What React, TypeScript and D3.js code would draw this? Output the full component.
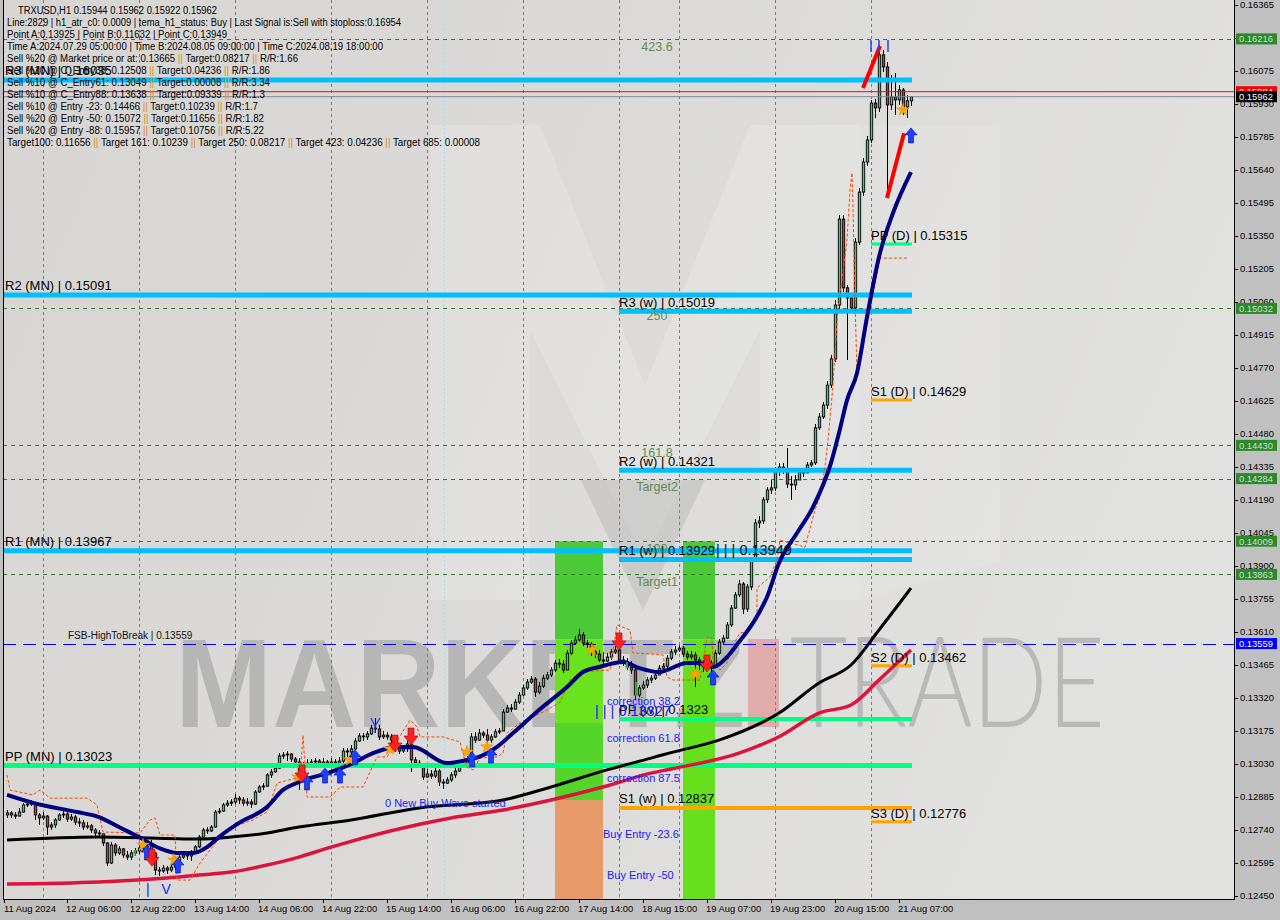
import React from "react";
import * as d3 from "d3";

const FONT = "'Liberation Sans', Arial, Helvetica, sans-serif";

// ---------------- DATA ----------------
const priceTickLabels = ["0.12450","0.12595","0.12740","0.12885","0.13030","0.13175","0.13320","0.13465","0.13610","0.13755","0.13900","0.14045","0.14190","0.14335","0.14480","0.14625","0.14770","0.14915","0.15060","0.15205","0.15350","0.15495","0.15640","0.15785","0.15930","0.16075","0.16220","0.16365"];

const firstTimeLabel = "11 Aug 2024";
const timeTickBars = [15,31,47,63,79,95,111,127,143,159,175,191,207,223];
const timeTickLabels = ["12 Aug 06:00","12 Aug 22:00","13 Aug 14:00","14 Aug 06:00","14 Aug 22:00","15 Aug 14:00","16 Aug 06:00","16 Aug 22:00","17 Aug 14:00","18 Aug 15:00","19 Aug 07:00","19 Aug 23:00","20 Aug 15:00","21 Aug 07:00"];
const dayGridBars = [9,33,57,81,105,129,153,168,192,216];
const cyanMarkerBar = 109.25;

// prices in units of 0.00001
const firstOpen = 12806;
const closes = [
12815,12806,12801,12819,12850,12854,12858,12806,12793,12801,
12753,12762,12784,12806,12810,12788,12797,12775,12771,12753,
12758,12740,12727,12723,12683,12595,12674,12639,12657,12630,
12621,12639,12648,12661,12666,12670,12639,12564,12560,12573,
12564,12577,12599,12621,12630,12626,12644,12666,12709,12740,
12736,12753,12819,12823,12850,12858,12863,12880,12872,12858,
12863,12854,12907,12929,12933,12982,12995,13012,13065,13070,
13074,13052,13039,12995,13021,13034,13039,13043,13030,13039,
13026,13039,13034,13043,13087,13083,13096,13131,13153,13149,
13162,13188,13184,13149,13157,13149,13135,13100,13087,13096,
13118,13048,13034,13030,12973,12986,12977,12999,12951,12946,
12960,12982,12999,13021,13034,13052,13149,13135,13166,13157,
13135,13149,13171,13175,13258,13276,13271,13302,13333,13364,
13390,13403,13346,13372,13407,13421,13443,13473,13469,13443,
13517,13561,13575,13597,13561,13557,13522,13513,13487,13482,
13500,13522,13531,13487,13478,13456,13443,13333,13364,13377,
13399,13407,13421,13451,13460,13495,13522,13531,13539,13513,
13500,13509,13487,13465,13456,13473,13460,13517,13566,13583,
13641,13715,13773,13821,13711,13808,13927,14089,14098,14191,
14234,14243,14318,14335,14322,14260,14256,14278,14313,14309,
14344,14353,14507,14555,14607,14695,14810,15047,15424,15122,
15078,15034,15323,15543,15675,15772,15934,15913,16146,16093,
15926,15961,15948,15992,15917,15944,15962];
const highs = [
12828,12823,12819,12837,12858,12867,12872,12863,12815,12819,
12806,12775,12793,12815,12823,12819,12810,12806,12793,12784,
12775,12766,12749,12740,12718,12687,12687,12683,12670,12661,
12648,12652,12661,12674,12683,12687,12696,12644,12577,12586,
12582,12591,12608,12630,12644,12644,12652,12674,12718,12749,
12753,12762,12828,12837,12858,12872,12876,12898,12889,12885,
12880,12876,12916,12938,12946,12990,13008,13026,13078,13083,
13087,13078,13061,13056,13039,13052,13052,13056,13052,13056,
13048,13056,13052,13061,13100,13100,13113,13144,13166,13166,
13175,13201,13232,13201,13175,13171,13162,13135,13113,13113,
13131,13127,13061,13048,13021,13008,13004,13012,13008,12964,
12973,12995,13012,13034,13048,13065,13166,13171,13184,13175,
13184,13162,13184,13188,13271,13289,13293,13315,13346,13377,
13403,13416,13412,13390,13421,13434,13456,13487,13491,13487,
13531,13575,13592,13623,13610,13575,13566,13539,13531,13522,
13517,13535,13548,13539,13504,13495,13482,13451,13377,13394,
13412,13421,13434,13465,13473,13509,13535,13548,13553,13548,
13526,13526,13522,13500,13487,13491,13487,13531,13579,13597,
13654,13729,13786,13839,13830,13821,13940,14107,14120,14204,
14247,14278,14335,14353,14353,14419,14296,14300,14331,14326,
14357,14366,14524,14572,14621,14713,14827,15069,15442,15442,
15135,15091,15341,15561,15693,15789,15948,15952,16190,16168,
16115,16057,16066,16014,16000,15970,15962];
const lows = [
12793,12793,12788,12801,12815,12841,12845,12784,12762,12784,
12718,12740,12749,12780,12793,12775,12780,12762,12753,12740,
12745,12727,12714,12705,12670,12582,12591,12626,12630,12617,
12608,12608,12626,12635,12648,12652,12626,12542,12538,12551,
12547,12555,12564,12591,12613,12608,12604,12639,12661,12705,
12723,12731,12749,12810,12819,12841,12845,12854,12854,12845,
12845,12837,12850,12902,12916,12929,12968,12990,13008,13052,
13043,13039,13026,12916,12982,13012,13021,13026,13017,13021,
13012,13017,13017,13021,13034,13061,13065,13092,13127,13131,
13135,13157,13166,13135,13140,13135,13118,13083,13074,13078,
13083,12995,13017,13012,12960,12968,12964,12968,12933,12920,
12942,12951,12968,12995,13017,13026,13048,13122,13131,13144,
13122,13122,13144,13162,13175,13254,13258,13271,13293,13328,
13355,13381,13324,13337,13364,13399,13412,13434,13451,13429,
13443,13509,13553,13566,13548,13539,13504,13495,13478,13465,
13478,13487,13513,13469,13460,13443,13425,13311,13324,13355,
13364,13385,13399,13421,13438,13451,13487,13509,13522,13500,
13487,13487,13368,13443,13434,13443,13407,13451,13509,13557,
13579,13632,13711,13764,13689,13698,13795,13918,14067,14085,
14177,14216,14230,14296,14304,14243,14191,14234,14287,14291,
14313,14335,14344,14498,14546,14590,14682,14796,15029,15104,
14805,15016,15016,15311,15526,15658,15759,15868,15895,16071,
15517,15904,15882,15926,15882,15868,15922];

// moving averages (bar index, price*1e5)
const blackMA: [number, number][] = [[0,12696],[23,12709],[48,12700],[56,12709],[65,12727],[73,12753],[86,12784],[103,12837],[124,12872],[136,12929],[150,13004],[161,13056],[166,13080],[178,13135],[193,13254],[203,13386],[211,13465],[218,13619],[226,13803]];
const crimsonMA: [number, number][] = [[0,12503],[23,12512],[40,12529],[48,12542],[56,12555],[65,12586],[73,12621],[81,12665],[111,12793],[124,12828],[136,12872],[149,12929],[161,12990],[166,13008],[183,13078],[193,13150],[203,13254],[211,13289],[218,13399],[226,13531]];
const navyMA: [number, number][] = [[0,12894],[6.5,12859],[17.5,12819],[23,12797],[28,12753],[33,12709],[38,12661],[42.5,12639],[46.5,12639],[50,12665],[53,12709],[58,12771],[65,12841],[69,12916],[73,12951],[81,12995],[86.5,13034],[91.5,13078],[97.5,13105],[101.5,13105],[110,13034],[115,13048],[118,13061],[122.5,13105],[126.5,13166],[133,13267],[140,13368],[144,13434],[148,13456],[154,13478],[158,13452],[163,13434],[170,13474],[173,13474],[176.5,13456],[180,13500],[183,13566],[186.5,13650],[190,13764],[193,13913],[197.5,14045],[201.5,14159],[206,14353],[208,14484],[210,14629],[212.5,14748],[215,14994],[218,15258],[221.5,15451],[226,15631]];
const stopBand: [number, number][] = [[0,12982],[0.75,12916],[6.5,12894],[8.25,12916],[10.75,12880],[20,12880],[22.5,12850],[24,12731],[33.25,12727],[35.75,12784],[37,12793],[38.25,12718],[42,12718],[42.5,12520],[45.75,12520],[48.25,12595],[50.75,12652],[53.25,12709],[56.5,12753],[61.5,12784],[65,12819],[67.5,12946],[73.25,12973],[74,13157],[75,12885],[80.75,12885],[83.25,12929],[89,12929],[92.5,13061],[95,13061],[100.75,13223],[102.5,13193],[103.25,13149],[109,13149],[113.25,13127],[115,13017],[116.5,13004],[118.25,13056],[122.5,13061],[124,13078],[125,13166],[128.25,13210],[131.5,13237],[135,13267],[138.25,13302],[140.75,13399],[143.25,13434],[150.75,13443],[152.5,13641],[155.75,13619],[156.5,13518],[164,13509],[165,13412],[166.5,13399],[173.25,13399],[175,13588],[176.25,13584],[176.5,13474],[178.25,13443],[180,13474],[181.25,13544],[183.25,13606],[185,13610],[187.5,13663],[187.5,13803],[190.75,13852],[192.5,13926],[193.25,14014],[199.5,13983],[202,14146],[203.25,14203],[204.5,14335],[205.25,14454],[206.25,14643],[207,14836],[207.75,15038],[208.75,15157],[210,15332],[210.75,15552],[211.25,15627],[211.5,15477],[212,15069],[212.5,14748],[215.75,15025],[218.25,15253],[225.25,15253]];
const trendLines: [number, number][][] = [[[214,16000],[218.25,16185]],[[220,15517],[224.25,15801]]];

const buyArrows: [number, number][] = [[35,12674],[42.75,12617],[75,12982],[79.5,13012],[83.25,13012],[87,13092],[116.25,13083],[121,13100],[176.5,13443],[226,15825]];
const sellArrows: [number, number][] = [[36.25,12655],[73.75,13026],[97,13157],[101,13188],[153,13606],[175,13509]];
const starMarks: [number, number][] = [[34,12674],[41.75,12608],[72.75,12973],[85.75,13048],[95.75,13096],[115,13083],[120,13105],[146.25,13531],[172,13425],[224,15904]];
const topMarks = [216, 218, 220.25];
const topMarkRange = [0.16158, 0.16211];
const greenTicks: [number, number, number][] = [[32,12652,12626],[155,13478,13451],[157.25,13390,13328]];

// pivot levels
const monthlyNames = ["R3 (MN)","R2 (MN)","R1 (MN)","PP (MN)"];
const monthlyValues = [0.16035,0.15091,0.13967,0.13023];
const weeklyNames = ["R3 (w)","R2 (w)","R1 (w)","PP (w)","S1 (w)"];
const weeklyValues = [0.15019,0.14321,0.13929,0.13228,0.12837];
const weeklyText = ["0.15019","0.14321","0.13929","0.1323","0.12837"];
const dailyNames = ["PP (D)","S1 (D)","S2 (D)","S3 (D)"];
const dailyValues = [0.15315,0.14629,0.13462,0.12776];
const weeklyStartBar = 153;
const dailyStartBar = 216;
const levelEndBar = 226.25;

// fibo / targets
const fibValues = [0.16216,0.15032,0.14430,0.14284,0.14009,0.13863];
const fibLabels = ["423.6","250","161.8","Target2","100","Target1"];
const fibLabelBar = 162.5;
const fsbValue = 0.13559;
const fsbLabel = "FSB-HighToBreak | 0.13559";
const bidPrice = 0.15962;
const askPrice = 0.15984;

// zones
const zoneBars: [number, number][] = [[137, 149], [169, 177]];
const zone1Breaks = [0.14009, 0.13577, 0.13210, 0.12872, 0.1240];
const zone2Breaks = [0.14009, 0.13577, 0.1240];

const zoneTexts = ["correction 38.2","correction 61.8","correction 87.5","Buy Entry -23.6","Buy Entry -50"];
const zoneTextPrices = [0.13289,0.13127,0.12951,0.12705,0.12525];
const zoneTextBars = [150,150,150,149,150];
const waveText = "0 New Buy Wave started";
const waveBar = 94.5, wavePrice = 0.12840;

const infoLines = [
  "TRXUSD,H1  0.15944 0.15962 0.15922 0.15962",
  "Line:2829 | h1_atr_c0: 0.0009 | tema_h1_status: Buy | Last Signal is:Sell with stoploss:0.16954",
  "Point A:0.13925 | Point B:0.11632 | Point C:0.13949",
  "Time A:2024.07.29 05:00:00 | Time B:2024.08.05 09:00:00 | Time C:2024.08.19 18:00:00",
  "Sell %20 @ Market price or at: 0.13665 || Target:0.08217 || R/R:1.66",
  "Sell %10 @ C_Entry38: 0.12508 || Target:0.04236 || R/R:1.86",
  "Sell %10 @ C_Entry61: 0.13049 || Target:0.00008 || R/R:3.34",
  "Sell %10 @ C_Entry88: 0.13638 || Target:0.09339 || R/R:1.3",
  "Sell %10 @ Entry -23: 0.14466 || Target:0.10239 || R/R:1.7",
  "Sell %20 @ Entry -50: 0.15072 || Target:0.11656 || R/R:1.82",
  "Sell %20 @ Entry -88: 0.15957 || Target:0.10756 || R/R:5.22",
  "Target100: 0.11656 || Target 161: 0.10239 || Target 250: 0.08217 || Target 423: 0.04236 || Target 685: 0.00008",
];
const infoWidths = [199,394,220,376,291,263,263,258,251,257,257,473];

// ---------------- CHART ----------------
const L = 3, T = 0, R = 1234, B = 899;
const CYAN = "#00bfff", SPRING = "#00ff7f", ORANGE = "#ffa500";
const levelColor = (n: string) => (n.startsWith("R") ? CYAN : n.startsWith("PP") ? SPRING : ORANGE);

export default function App() {
  const x = d3.scaleLinear().domain([0, 226]).range([7, 911]);
  const y = d3.scaleLinear().domain([0.1245, 0.16075]).range([896, 71]);
  const yp = (v: number) => y(v / 1e5);

  const candles = closes.map((c, i) => {
    const o = i === 0 ? firstOpen : closes[i - 1];
    const h = Math.max(highs[i], o, c);
    const l = Math.min(lows[i], o, c);
    return { i, o, c, h, l };
  });

  const curve = d3.line<[number, number]>().x(d => x(d[0])).y(d => yp(d[1])).curve(d3.curveMonotoneX);
  const straight = d3.line<[number, number]>().x(d => x(d[0])).y(d => yp(d[1]));
  const starPath = d3.symbol().type(d3.symbolStar).size(50)() || "";

  const monthlyEnd = x(levelEndBar);

  return (
    <div style={{ position: "fixed", left: 0, top: 0, width: 1280, height: 920 }}>
      <svg width={1280} height={920} style={{ display: "block" }} fontFamily={FONT}>
        <defs>
          <linearGradient id="bg" x1="0" y1="0" x2="1" y2="0.3">
            <stop offset="0" stopColor="#d6d5d2" />
            <stop offset="0.5" stopColor="#dbdad8" />
            <stop offset="1" stopColor="#e1e1e0" />
          </linearGradient>
          <clipPath id="plot"><rect x={L} y={T} width={R - L} height={B - T} /></clipPath>
        </defs>
        <rect x={0} y={0} width={1280} height={920} fill="#c0c0c0" />
        <rect x={L} y={T} width={R - L} height={B - T} fill="url(#bg)" />

        <g clipPath="url(#plot)">
          {/* logo watermark */}
          <path d="M430,600 L430,125 L540,125 L645,385 L750,125 L860,125 L860,600 L760,600 L760,330 L645,560 L530,330 L530,600 Z" fill="#ffffff" opacity={0.17} />
          <path d="M860,125 L1000,125 L1000,560 L860,600 Z" fill="#ffffff" opacity={0.1} />
          <path d="M581,480 L705,480 L643,610 Z" fill="#b9b9b9" opacity={0.5} />
          {/* text watermark */}
          <text x={175} y={727} fontSize={126} fontWeight="bold" fill="#a9a9a9" opacity={0.72} textLength={570} lengthAdjust="spacingAndGlyphs">MARKETZ</text>
          <rect x={748} y={639} width={31} height={88} fill="#e3a2a2" opacity={0.85} />
          <text x={790} y={727} fontSize={126} fontWeight={300} fontFamily="Lato, 'Liberation Sans', sans-serif" fill="#acacac" opacity={0.75} textLength={315} lengthAdjust="spacingAndGlyphs">TRADE</text>

          {/* zones */}
          {zone1Breaks.slice(0, -1).map((v, k) => (
            <rect key={"z1" + k} x={x(zoneBars[0][0])} width={x(zoneBars[0][1]) - x(zoneBars[0][0])} y={y(v)} height={y(zone1Breaks[k + 1]) - y(v)}
              fill={["#4cc937", "#6ae21e", "#55d42a", "#e89b68"][k]} />
          ))}
          {zone2Breaks.slice(0, -1).map((v, k) => (
            <rect key={"z2" + k} x={x(zoneBars[1][0])} width={x(zoneBars[1][1]) - x(zoneBars[1][0])} y={y(v)} height={y(zone2Breaks[k + 1]) - y(v)}
              fill={["#4cc937", "#66e01c"][k]} />
          ))}

          {/* grid */}
          {dayGridBars.map(b => (
            <line key={"g" + b} x1={Math.round(x(b)) + 0.5} x2={Math.round(x(b)) + 0.5} y1={T} y2={B} stroke="#7a7a7a" strokeDasharray="3,3" />
          ))}
          <line x1={Math.round(x(cyanMarkerBar)) + 0.5} x2={Math.round(x(cyanMarkerBar)) + 0.5} y1={T} y2={B} stroke="#a9dfe8" strokeDasharray="2,2" />

          {/* fib dashed levels */}
          {fibValues.map(v => (
            <line key={"f" + v} x1={L} x2={R} y1={Math.round(y(v)) + 0.5} y2={Math.round(y(v)) + 0.5} stroke="#2f7f2f" strokeDasharray="4,4" />
          ))}
          <line x1={L} x2={R} y1={Math.round(y(fsbValue)) + 0.5} y2={Math.round(y(fsbValue)) + 0.5} stroke="#0000ff" strokeDasharray="13,7" />

          {/* candles */}
          {candles.map(d => {
            const cx = Math.round(x(d.i));
            const yo = yp(d.o), yc = yp(d.c);
            const top = Math.min(yo, yc), bot = Math.max(yo, yc);
            const up = d.c >= d.o;
            return (
              <g key={"c" + d.i}>
                <line x1={cx + 0.5} x2={cx + 0.5} y1={yp(d.h)} y2={yp(d.l)} stroke="#000" shapeRendering="crispEdges" />
                <rect x={cx - 0.7} y={top} width={2.4} height={Math.max(bot - top, 0.6)} fill={up ? "#3ec77e" : "#b83a4b"} stroke="#000" strokeWidth={0.9} />
              </g>
            );
          })}

          {/* bid / ask */}
          <line x1={L} x2={R} y1={y(askPrice)} y2={y(askPrice)} stroke="#ff0000" strokeWidth={1} />
          <line x1={L} x2={R} y1={y(bidPrice)} y2={y(bidPrice)} stroke="#778899" strokeWidth={1} />

          {/* pivot levels */}
          {monthlyValues.map((v, k) => (
            <line key={"m" + k} x1={L} x2={monthlyEnd} y1={y(v)} y2={y(v)} stroke={levelColor(monthlyNames[k])} strokeWidth={5} />
          ))}
          {weeklyValues.map((v, k) => (
            <line key={"w" + k} x1={x(weeklyStartBar)} x2={monthlyEnd} y1={y(v)} y2={y(v)} stroke={levelColor(weeklyNames[k])} strokeWidth={weeklyNames[k].startsWith("R") ? 5 : 4} />
          ))}
          {dailyValues.map((v, k) => (
            <line key={"d" + k} x1={x(dailyStartBar)} x2={monthlyEnd} y1={y(v)} y2={y(v)} stroke={levelColor(dailyNames[k])} strokeWidth={3} />
          ))}

          {/* moving averages */}
          <path d={curve(crimsonMA) || ""} fill="none" stroke="#dc143c" strokeWidth={3.5} />
          <path d={curve(blackMA) || ""} fill="none" stroke="#000000" strokeWidth={3} />
          <path d={straight(stopBand) || ""} fill="none" stroke="#ff4500" strokeWidth={1} strokeDasharray="3,2" />
          <path d={curve(navyMA) || ""} fill="none" stroke="#000080" strokeWidth={4} />

          {/* trend lines */}
          {trendLines.map((t, k) => (
            <path key={"t" + k} d={straight(t) || ""} stroke="#ff0000" strokeWidth={4} fill="none" />
          ))}

          {/* markers */}
          {topMarks.map(b => (
            <line key={"tm" + b} x1={x(b)} x2={x(b)} y1={y(topMarkRange[0])} y2={y(topMarkRange[1])} stroke="#2040ff" strokeWidth={1.5} />
          ))}
          {greenTicks.map((g, k) => (
            <line key={"gt" + k} x1={x(g[0])} x2={x(g[0])} y1={yp(g[1])} y2={yp(g[2])} stroke="#33cc33" strokeWidth={1.5} />
          ))}
          <path d={`M${x(91)},${yp(13232)} L${x(92)},${yp(13197)} L${x(93.25)},${yp(13232)} M${x(92)},${yp(13197)} L${x(92)},${yp(13166)}`} stroke="#2040ff" strokeWidth={1.2} fill="none" />
          {starMarks.map((s, k) => (
            <path key={"s" + k} d={starPath} transform={`translate(${x(s[0])},${yp(s[1])})`} fill="#ffa500" stroke="#e08a00" strokeWidth={0.5} />
          ))}
          {buyArrows.map((a, k) => {
            const cx = x(a[0]), ty = yp(a[1]);
            return <path key={"b" + k} d={`M${cx},${ty} l6,7 h-3.5 v8 h-5 v-8 h-3.5 z`} fill="#1f3fff" stroke="#0010a0" strokeWidth={0.6} />;
          })}
          {sellArrows.map((a, k) => {
            const cx = x(a[0]), ty = yp(a[1]);
            return <path key={"r" + k} d={`M${cx - 3},${ty} h6 v8 h4 l-7,9 l-7,-9 h4 z`} fill="#ff2020" stroke="#b00000" strokeWidth={0.6} />;
          })}

          {/* level labels */}
          {monthlyValues.map((v, k) => (
            <text key={"ml" + k} x={L + 2} y={y(v) - 5} fontSize={13} fill="#000">{`${monthlyNames[k]} | ${v.toFixed(5)}`}</text>
          ))}
          {weeklyValues.map((v, k) => (
            <text key={"wl" + k} x={x(weeklyStartBar)} y={y(v) - 4.5} fontSize={13} fill="#000">{`${weeklyNames[k]} | ${weeklyText[k]}`}</text>
          ))}
          {dailyValues.map((v, k) => (
            <text key={"dl" + k} x={x(dailyStartBar)} y={y(v) - 4} fontSize={13} fill="#000">{`${dailyNames[k]} | ${v.toFixed(5)}`}</text>
          ))}
          {fibValues.map((v, k) => (
            <text key={"fl" + k} x={x(fibLabelBar)} y={y(v) + 12} fontSize={12.5} fill="#5f8c52" textAnchor="middle">{fibLabels[k]}</text>
          ))}
          <text x={716} y={y(0.13929) - 4} fontSize={14.5} fill="#111">| | | 0.13949</text>
          <text x={595} y={y(0.13228) - 3} fontSize={14.5} fill="#1a1aff">| | | 0.13327</text>
          <text x={x(15.25)} y={y(fsbValue) - 5} fontSize={10} fill="#111">{fsbLabel}</text>
          {zoneTexts.map((t, k) => (
            <text key={"zt" + k} x={x(zoneTextBars[k])} y={y(zoneTextPrices[k])} fontSize={11} fill="#1a1aff">{t}</text>
          ))}
          <text x={x(waveBar)} y={y(wavePrice)} fontSize={11} fill="#1a1aff">{waveText}</text>
          <text x={146} y={894} fontSize={14} fill="#1a1aff" letterSpacing={4}>| V</text>

          {/* info block */}
          {infoLines.map((line, k) => {
            const parts = line.split("||");
            return (
              <text key={"i" + k} x={k === 0 ? 18 : 7} y={14 + k * 12} fontSize={10} fill="#000" textLength={infoWidths[k]} lengthAdjust="spacingAndGlyphs">
                {parts.map((p, j) => (
                  <React.Fragment key={j}>
                    {j > 0 && <tspan fill="#d9892b">||</tspan>}
                    <tspan>{p}</tspan>
                  </React.Fragment>
                ))}
              </text>
            );
          })}
        </g>

        {/* frame */}
        <line x1={L + 0.5} x2={L + 0.5} y1={T} y2={B} stroke="#000" />
        <line x1={L} x2={R + 1} y1={B + 0.5} y2={B + 0.5} stroke="#000" />
        <line x1={R + 0.5} x2={R + 0.5} y1={T} y2={B + 1} stroke="#000" />

        {/* right axis */}
        {priceTickLabels.map(t => {
          const yy = y(parseFloat(t));
          return (
            <g key={"pt" + t}>
              <line x1={R} x2={R + 4} y1={Math.round(yy) + 0.5} y2={Math.round(yy) + 0.5} stroke="#000" />
              <text x={1240} y={yy} dy="0.36em" fontSize={9.4} fill="#000">{t}</text>
            </g>
          );
        })}
        {fibValues.map(v => (
          <g key={"fb" + v}>
            <rect x={1236} y={y(v) - 5.5} width={41} height={11} fill="#2a8a2a" />
            <text x={1239} y={y(v)} dy="0.36em" fontSize={9.4} fill="#d8dcd8">{v.toFixed(5)}</text>
          </g>
        ))}
        <rect x={1236} y={y(fsbValue) - 5.5} width={41} height={11} fill="#0000ff" />
        <text x={1239} y={y(fsbValue)} dy="0.36em" fontSize={9.4} fill="#fff">{fsbValue.toFixed(5)}</text>
        <rect x={1236} y={y(askPrice) - 5.5} width={41} height={11} fill="#ff0000" />
        <text x={1239} y={y(askPrice)} dy="0.36em" fontSize={9.4} fill="#fff">{askPrice.toFixed(5)}</text>
        <rect x={1236} y={y(bidPrice) - 5.5} width={41} height={11} fill="#000" />
        <text x={1239} y={y(bidPrice)} dy="0.36em" fontSize={9.4} fill="#fff">{bidPrice.toFixed(5)}</text>

        {/* bottom axis */}
        <line x1={L + 1.5} x2={L + 1.5} y1={B} y2={B + 4} stroke="#000" />
        <text x={L + 1} y={912} fontSize={9.4} fill="#000">{firstTimeLabel}</text>
        {timeTickBars.map((b, k) => (
          <g key={"tt" + b}>
            <line x1={Math.round(x(b)) + 0.5} x2={Math.round(x(b)) + 0.5} y1={B} y2={B + 4} stroke="#000" />
            <text x={x(b) - 1} y={912} fontSize={9.4} fill="#000">{timeTickLabels[k]}</text>
          </g>
        ))}
      </svg>
    </div>
  );
}
